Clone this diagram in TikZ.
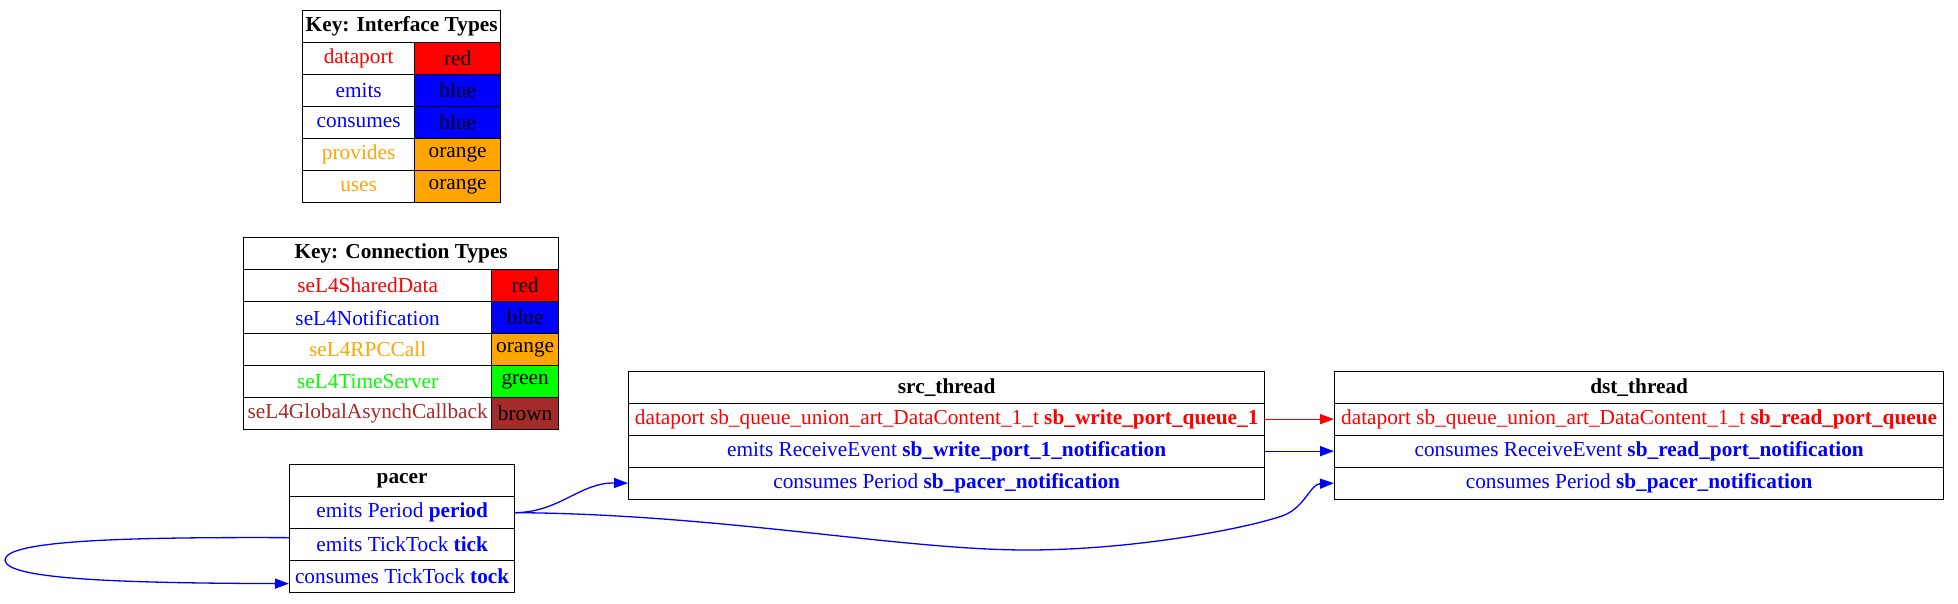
\documentclass[tikz,border=0pt]{standalone}
\usepackage{fontspec}
\setmainfont{Liberation Serif}
\usetikzlibrary{arrows.meta}
\definecolor{gvred}{HTML}{FF0000}
\definecolor{gvblue}{HTML}{0000FF}
\definecolor{gvorange}{HTML}{FFA500}
\definecolor{gvgreen}{HTML}{00FF00}
\definecolor{gvbrown}{HTML}{A52A2A}
\begin{document}
\begin{tikzpicture}[x=1pt,y=-1pt,
  cell/.style={draw=black, line width=1.3pt, anchor=north west, inner sep=0pt,
    minimum height=32pt, minimum width=#1, font=\fontsize{21.3}{24}\selectfont},
  conn/.style={line width=1.3pt, -{Triangle[length=14pt,width=10pt]}},
  ]
\useasboundingbox (0,0) rectangle (1958,603);

% Key: Interface Types
\node[cell=198pt] (ik-h) at (302,10) {\bfseries Key: Interface Types};
\node[cell=112pt, text=gvred] (ik-l1) at (302,42) {dataport};
\node[cell=86pt, fill=gvred] (ik-r1) at (414,42) {red};
\node[cell=112pt, text=gvblue] (ik-l2) at (302,74) {emits};
\node[cell=86pt, fill=gvblue] (ik-r2) at (414,74) {blue};
\node[cell=112pt, text=gvblue] (ik-l3) at (302,106) {consumes};
\node[cell=86pt, fill=gvblue] (ik-r3) at (414,106) {blue};
\node[cell=112pt, text=gvorange] (ik-l4) at (302,138) {provides};
\node[cell=86pt, fill=gvorange] (ik-r4) at (414,138) {orange};
\node[cell=112pt, text=gvorange] (ik-l5) at (302,170) {uses};
\node[cell=86pt, fill=gvorange] (ik-r5) at (414,170) {orange};

% Key: Connection Types
\node[cell=315pt] (ck-h) at (243,237) {\bfseries Key: Connection Types};
\node[cell=248pt, text=gvred] (ck-l1) at (243,269) {seL4SharedData};
\node[cell=67pt, fill=gvred] (ck-r1) at (491,269) {red};
\node[cell=248pt, text=gvblue] (ck-l2) at (243,301) {seL4Notification};
\node[cell=67pt, fill=gvblue] (ck-r2) at (491,301) {blue};
\node[cell=248pt, text=gvorange] (ck-l3) at (243,333) {seL4RPCCall};
\node[cell=67pt, fill=gvorange] (ck-r3) at (491,333) {orange};
\node[cell=248pt, text=gvgreen] (ck-l4) at (243,365) {seL4TimeServer};
\node[cell=67pt, fill=gvgreen] (ck-r4) at (491,365) {green};
\node[cell=248pt, text=gvbrown] (ck-l5) at (243,397) {seL4GlobalAsynchCallback};
\node[cell=67pt, fill=gvbrown] (ck-r5) at (491,397) {brown};

% pacer
\node[cell=225pt] (pacer-h) at (289,464) {\bfseries pacer};
\node[cell=225pt, text=gvblue] (pacer-r1) at (289,496) {emits Period \textbf{period}};
\node[cell=225pt, text=gvblue] (pacer-r2) at (289,528) {emits TickTock \textbf{tick}};
\node[cell=225pt, text=gvblue] (pacer-r3) at (289,560) {consumes TickTock \textbf{tock}};

% src_thread
\node[cell=636pt] (src-h) at (628,370.5) {\bfseries src\_thread};
\node[cell=636pt, text=gvred] (src-r1) at (628,402.5) {dataport sb\_queue\_union\_art\_DataContent\_1\_t \textbf{sb\_write\_port\_queue\_1}};
\node[cell=636pt, text=gvblue] (src-r2) at (628,434.5) {emits ReceiveEvent \textbf{sb\_write\_port\_1\_notification}};
\node[cell=636pt, text=gvblue] (src-r3) at (628,466.5) {consumes Period \textbf{sb\_pacer\_notification}};

% dst_thread
\node[cell=609pt] (dst-h) at (1334,370.5) {\bfseries dst\_thread};
\node[cell=609pt, text=gvred] (dst-r1) at (1334,402.5) {dataport sb\_queue\_union\_art\_DataContent\_1\_t \textbf{sb\_read\_port\_queue}};
\node[cell=609pt, text=gvblue] (dst-r2) at (1334,434.5) {consumes ReceiveEvent \textbf{sb\_read\_port\_notification}};
\node[cell=609pt, text=gvblue] (dst-r3) at (1334,466.5) {consumes Period \textbf{sb\_pacer\_notification}};

% connections
\draw[conn, gvred] (src-r1.east) -- (dst-r1.west);
\draw[conn, gvblue] (src-r2.east) -- (dst-r2.west);
\draw[conn, gvblue] (pacer-r1.east) .. controls (560,512) and (580,482.5) .. (src-r3.west);
\draw[conn, gvblue] (pacer-r1.east) .. controls (720,514) and (900,550) .. (1027,550)
  .. controls (1130,550) and (1240,530) .. (1282,516)
  .. controls (1305,508) and (1310,484) .. (dst-r3.west);
\draw[conn, gvblue] ([yshift=7pt]pacer-r2.west) .. controls (130,537) and (5,540) .. (5,560)
  .. controls (5,580) and (130,583) .. ([yshift=-7pt]pacer-r3.west);
\end{tikzpicture}
\end{document}
